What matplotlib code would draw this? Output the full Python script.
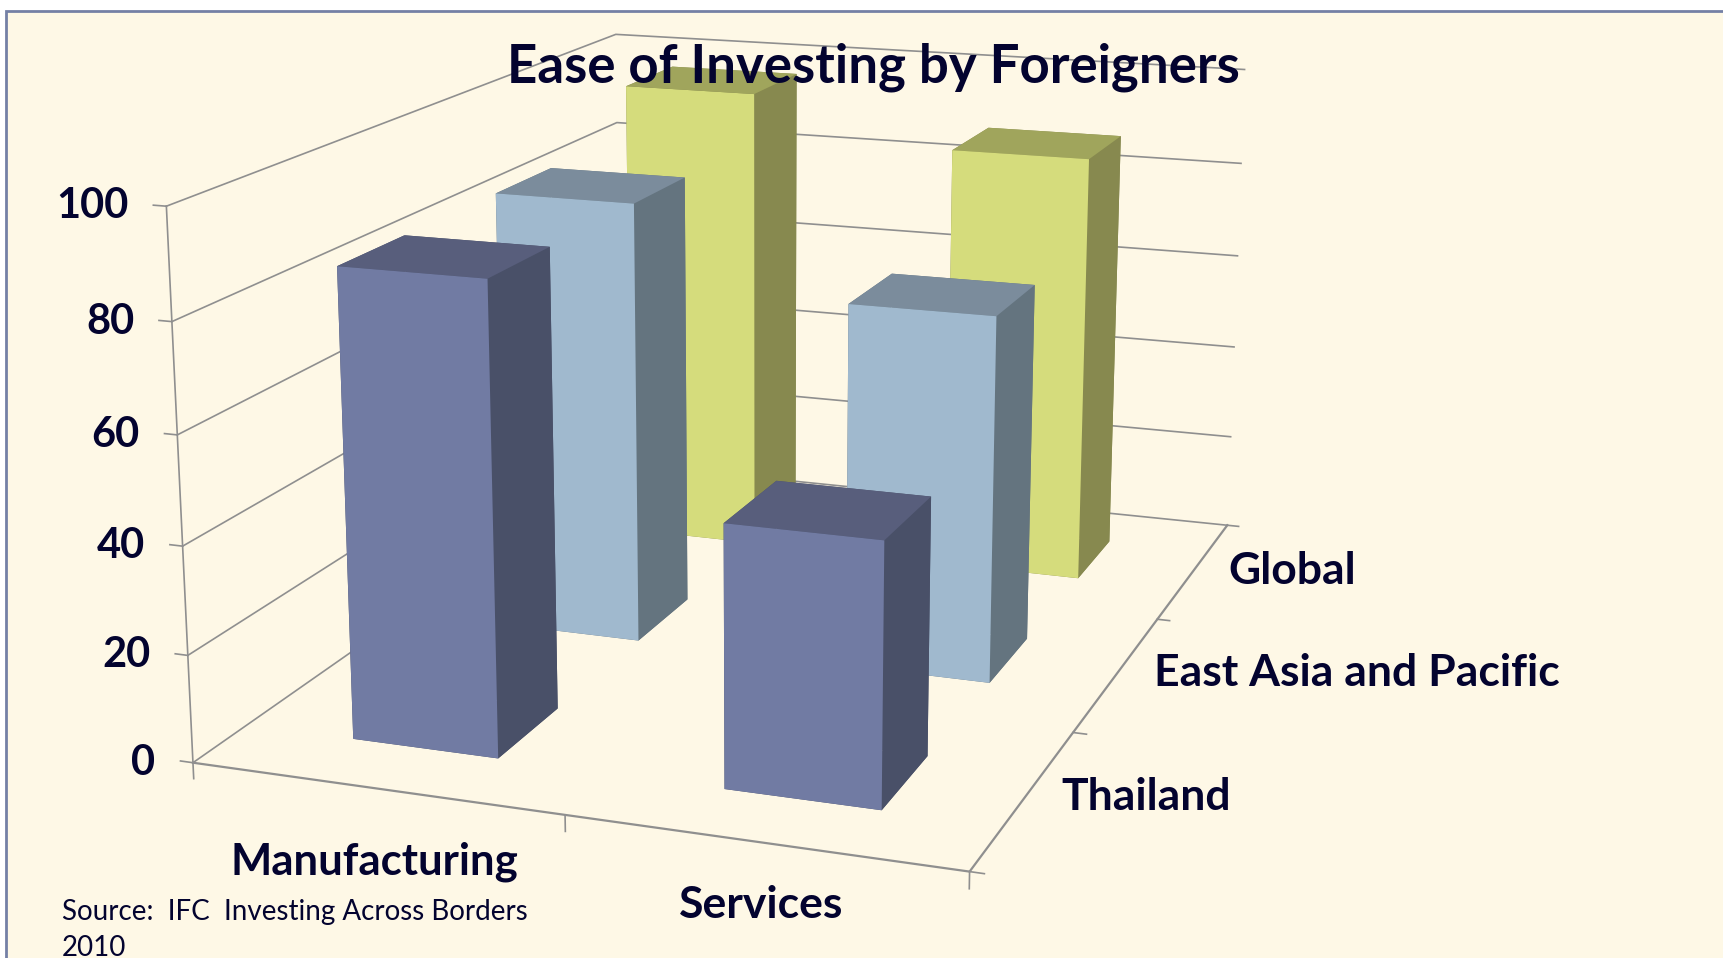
import matplotlib
matplotlib.use("Agg")
from matplotlib import pyplot as plt
from matplotlib.patches import Rectangle
from mpl_toolkits.mplot3d import proj3d

sectors = ["Manufacturing", "Services"]
regions = ["Thailand", "East Asia and Pacific", "Global"]
thailand = [87, 48]
east_asia = [87, 71]
global_avg = [97, 88]
y_ticks = [0, 20, 40, 60, 80, 100]

navy = "#03032f"
bg = "#fef8e6"
grid = "#8f8f8f"
# colours per bar face: front, side, top
front = ["#717ba3", "#a0b9ce", "#d5dc7c"]
side = ["#495068", "#64747f", "#87894f"]
top = ["#585e7c", "#7b8c9c", "#a0a55c"]

plt.rcParams["font.family"] = ["Lato", "DejaVu Sans"]

fig = plt.figure(figsize=(17.23, 9.58), dpi=100, facecolor="white")
fig.patches.append(Rectangle((0.0035, -0.01), 1, 0.9985, transform=fig.transFigure,
                             facecolor=bg, edgecolor="#7480a5", lw=2, zorder=-1))
ax = fig.add_axes([0.0413, -0.1265, 0.7835, 1.409], projection="3d", facecolor="none",
                  computed_zorder=False)
ax.patch.set_visible(False)
ax.set_proj_type("persp", focal_length=0.45)
ax.view_init(elev=14.9, azim=-70.3)
ax.set_box_aspect((1.01, 1.42, 0.71), zoom=0.988)
ax.set_axis_off()

nx, ny = len(sectors), len(regions)

# walls and floor edges, behind the bars
for v in y_ticks:
    ax.plot([0, 0, nx], [0, ny, ny], [v, v, v], color=grid, lw=1.2, zorder=1)
    ax.plot([-0.035, 0], [0, 0], [v, v], color=grid, lw=1.2, zorder=1)
ax.plot([0, 0], [0, 0], [0, 100], color=grid, lw=1.2, zorder=1)
ax.plot([0, nx, nx], [0, 0, ny], [0, 0, 0], color=grid, lw=1.6, zorder=1)
for i in range(nx + 1):
    ax.plot([i, i], [0, 0], [0, -3], color=grid, lw=1.2, zorder=1)
for j in range(ny + 1):
    ax.plot([nx, nx + 0.035], [j, j], [0, 0], color=grid, lw=1.2, zorder=1)

# back rows first, left bar first
w = 0.4
rows = [thailand, east_asia, global_avg]
for r in range(ny - 1, -1, -1):
    for s, v in enumerate(rows[r]):
        c = [side[r], top[r], front[r], side[r], side[r], side[r]]
        ax.bar3d(s + 0.5 - w / 2, r + 0.5 - w / 2, 0, w, w, v, color=c, shade=False,
                 zorder=2 + (ny - r) * nx + s)

ax.set_xlim(0, nx)
ax.set_ylim(0, ny)
ax.set_zlim(0, 100)

# value labels as plain 2D text beside the projected axis
proj = ax.get_proj()
for v in y_ticks:
    px, py, _ = proj3d.proj_transform(0, 0, v, proj)
    ax.annotate(str(v), xy=(px, py), xycoords="data", xytext=(-27, 0), textcoords="offset points",
                fontsize=30, fontweight="bold", color=navy, ha="right", va="center", zorder=30)

fig.text(0.507, 0.93, "Ease of Investing by Foreigners", fontsize=38, fontweight="bold", color=navy, ha="center", va="center")
fig.text(0.217, 0.1, sectors[0], fontsize=31.5, fontweight="bold", color=navy, ha="center", va="center")
fig.text(0.442, 0.055, sectors[1], fontsize=32, fontweight="bold", color=navy, ha="center", va="center")
fig.text(0.616, 0.168, regions[0], fontsize=32, fontweight="bold", color=navy, ha="left", va="center")
fig.text(0.67, 0.298, regions[1], fontsize=32, fontweight="bold", color=navy, ha="left", va="center")
fig.text(0.713, 0.404, regions[2], fontsize=32, fontweight="bold", color=navy, ha="left", va="center")
fig.text(0.036, 0.029, "Source:  IFC  Investing Across Borders\n2010", fontsize=20, color=navy, ha="left", va="center", linespacing=1.45)

fig.savefig("out.png", dpi=100)
